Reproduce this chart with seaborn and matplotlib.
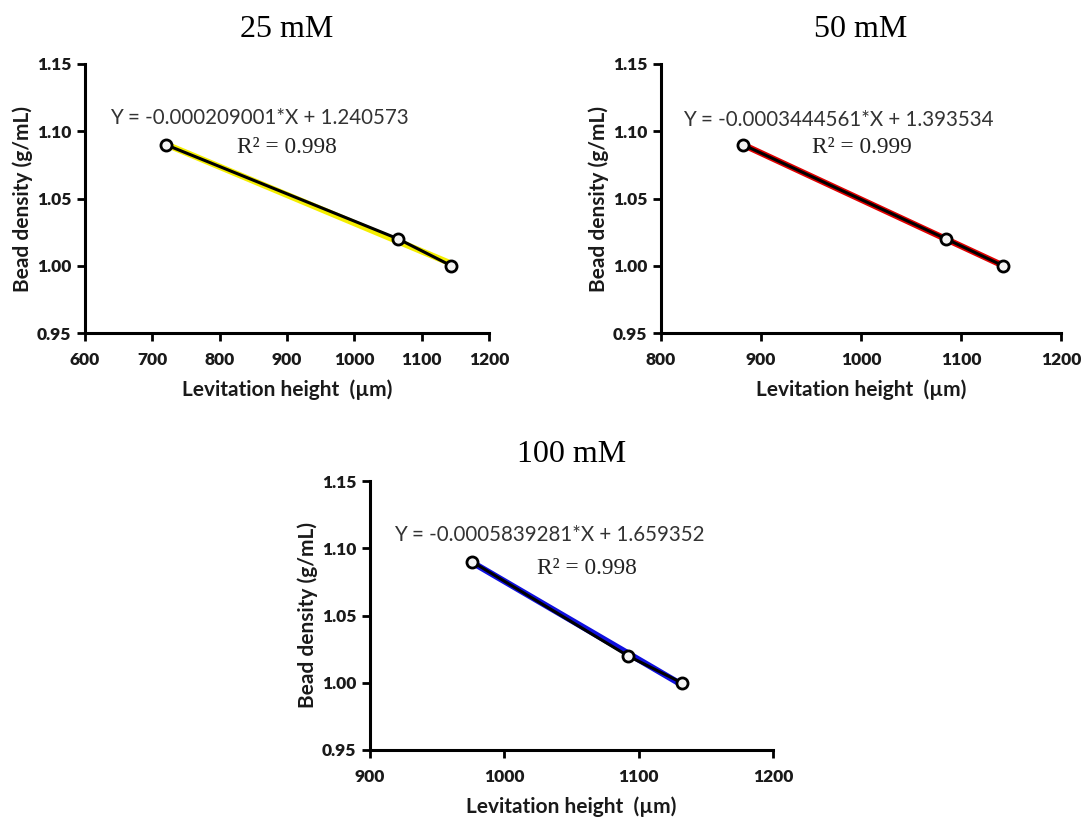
import matplotlib
matplotlib.use("Agg")
import matplotlib.pyplot as plt
import seaborn as sns
import numpy as np
import pandas as pd

sns.set_theme(style="ticks")
plt.rcParams['font.family'] = ['Lato', 'DejaVu Sans']

titles = ["25 mM", "50 mM", "100 mM"]
heights_25 = [720, 1065, 1144]
heights_50 = [882, 1085, 1142]
heights_100 = [976, 1092, 1132]
densities = [1.09, 1.02, 1.00]
equations = ["Y = -0.000209001*X + 1.240573",
             "Y = -0.0003444561*X + 1.393534",
             "Y = -0.0005839281*X + 1.659352"]
r2_labels = ["R² = 0.998", "R² = 0.999", "R² = 0.998"]
fit_colors = ["#F5EE00", "#E00000", "#1010E0"]
x_ticks = [[600, 700, 800, 900, 1000, 1100, 1200],
           [800, 900, 1000, 1100, 1200],
           [900, 1000, 1100, 1200]]
y_ticks = [0.95, 1.00, 1.05, 1.10, 1.15]

heights = [heights_25, heights_50, heights_100]

fig = plt.figure(figsize=(10.88, 8.17), dpi=100)
W, H = 1088, 817
boxes = [(85, 64, 489, 333), (661, 64, 1061, 333), (370, 481, 773, 750)]
eq_pos = [(0.431, 0.799), (0.443, 0.792), (0.445, 0.799)]
r2_pos = [(0.50, 0.691), (0.502, 0.688), (0.538, 0.673)]
title_y = [1.13, 1.13, 1.097]

for i in range(3):
    l, t, r, b = boxes[i]
    ax = fig.add_axes([l / W, 1 - b / H, (r - l) / W, (b - t) / H])
    df = pd.DataFrame({"height": heights[i], "density": densities})
    sns.regplot(data=df, x="height", y="density", ax=ax, scatter=False, ci=None,
                truncate=True, color=fit_colors[i], line_kws=dict(lw=4.5, zorder=2))
    sns.lineplot(data=df, x="height", y="density", ax=ax, color="black", lw=2.2,
                 marker="o", markersize=8, markerfacecolor="#f4f4f4",
                 markeredgecolor="black", markeredgewidth=2, zorder=3, sort=False)
    ax.set_xlim(x_ticks[i][0], x_ticks[i][-1])
    ax.set_ylim(0.95, 1.15)
    ax.set_xticks(x_ticks[i])
    ax.set_yticks(y_ticks)
    ax.set_yticklabels([f"{v:.2f}" for v in y_ticks])
    for s in ["top", "right"]:
        ax.spines[s].set_visible(False)
    for s in ["left", "bottom"]:
        ax.spines[s].set_linewidth(2.2)
        ax.spines[s].set_color("black")
    ax.tick_params(axis="both", which="major", length=6, width=2, color="black",
                   labelsize=12.5, pad=4)
    ax.tick_params(axis="x", pad=8)
    for lab in ax.get_xticklabels() + ax.get_yticklabels():
        lab.set_fontweight("heavy")
        lab.set_color("#1a1a1a")
    ax.set_xlabel("Levitation height  (µm)", fontsize=15, fontweight="bold",
                  color="#1a1a1a", labelpad=8)
    ax.set_ylabel("Bead density (g/mL)", fontsize=15, fontweight="bold",
                  color="#1a1a1a", labelpad=3)
    ax.text(eq_pos[i][0], eq_pos[i][1], equations[i], transform=ax.transAxes,
            ha="center", va="center", fontsize=14.8, color="#333333")
    ax.text(r2_pos[i][0], r2_pos[i][1], r2_labels[i], transform=ax.transAxes,
            ha="center", va="center", fontsize=16.8, color="#222222",
            family=["Liberation Serif", "DejaVu Serif"])
    ax.text(0.5, title_y[i], titles[i], transform=ax.transAxes, ha="center",
            va="center", fontsize=23, color="black",
            family=["Liberation Serif", "DejaVu Serif"])

fig.savefig("out.png", dpi=100, facecolor="white")
